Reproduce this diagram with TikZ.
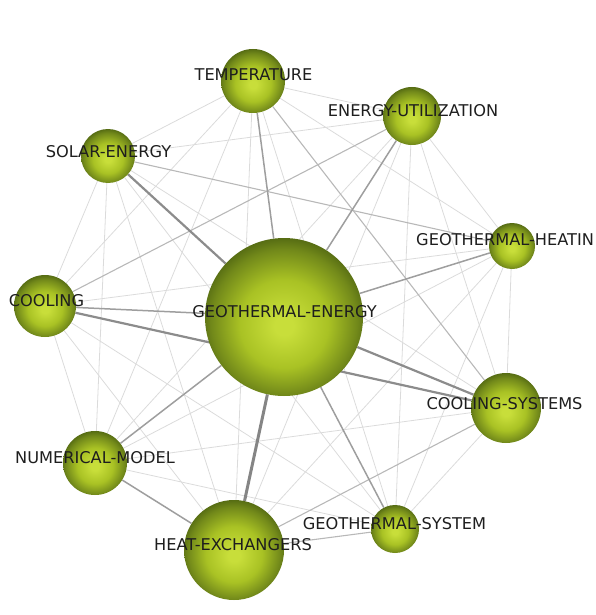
\documentclass[tikz,border=0pt]{standalone}
\usepackage{fontspec}
\setmainfont{DejaVu Sans}
\usetikzlibrary{backgrounds}
\definecolor{ballc}{HTML}{C8DE3A}
\definecolor{ballm}{HTML}{A9C224}
\definecolor{balld}{HTML}{72891A}
\definecolor{balle}{HTML}{526812}
\definecolor{lbl}{HTML}{1E1E1E}
\pgfdeclareradialshading{ball}{\pgfpoint{0bp}{-3bp}}{color(0bp)=(ballc); color(3bp)=(ballc); color(14bp)=(ballm); color(23bp)=(balld); color(27bp)=(balle); color(50bp)=(balle)}
\tikzset{
  bubble/.style={circle, inner sep=0pt, shading=ball, minimum size=#1},
  lab/.style={font=\fontsize{16.2}{18}\selectfont, text=lbl, inner sep=0pt},
  e0/.style={draw=black!14, line width=0.8pt},
  e1/.style={draw=black!28, line width=1.1pt},
  e2/.style={draw=black!38, line width=1.5pt},
  e3/.style={draw=black!45, line width=2.2pt},
  e4/.style={draw=black!48, line width=3pt},
}
\begin{document}
\begin{tikzpicture}[x=1pt,y=-1pt]
\useasboundingbox (0,0) rectangle (596,615);
\node[bubble=64pt] (T) at (253,81) {};
\node[bubble=58pt] (EU) at (412,116) {};
\node[bubble=54pt] (SE) at (108,156) {};
\node[bubble=46pt] (GH) at (512,246) {};
\node[bubble=62pt] (C) at (45,306) {};
\node[bubble=158pt] (GE) at (284,317) {};
\node[bubble=70pt] (CS) at (506,408) {};
\node[bubble=64pt] (NM) at (95,463) {};
\node[bubble=48pt] (GS) at (395,529) {};
\node[bubble=100pt] (HE) at (234,550) {};
\begin{scope}[on background layer]
\foreach \a/\b/\s in {T/EU/e0,T/SE/e0,T/GH/e0,T/C/e0,T/NM/e0,T/GS/e0,T/HE/e0,
  EU/SE/e0,EU/GH/e0,EU/CS/e0,EU/NM/e0,EU/GS/e0,EU/HE/e0,
  SE/C/e0,SE/CS/e0,SE/NM/e0,SE/GS/e0,SE/HE/e0,
  GH/C/e0,GH/CS/e0,GH/NM/e0,GH/GS/e0,GH/HE/e0,
  C/NM/e0,C/GS/e0,C/HE/e0,CS/NM/e0,CS/GS/e0,NM/GS/e0,
  T/CS/e1,EU/C/e1,SE/GH/e1,CS/HE/e1,GS/HE/e1,
  T/GE/e2,EU/GE/e2,GH/GE/e2,C/GE/e2,GE/NM/e2,GE/GS/e2,NM/HE/e2,
  SE/GE/e3,C/CS/e3,GE/CS/e3,GE/HE/e4}
  \draw[\s] (\a) -- (\b);
\end{scope}
\node[lab] (Tl) at (253.5,75) {TEMPERATURE};
\node[lab] (EUl) at (413,111) {ENERGY-UTILIZATION};
\node[lab] (SEl) at (108.5,152) {SOLAR-ENERGY};
\node[lab, anchor=west] (GHl) at (416,240) {GEOTHERMAL-HEATIN};
\node[lab] (Cl) at (46.5,301) {COOLING};
\node[lab] (GEl) at (284.5,311.5) {GEOTHERMAL-ENERGY};
\node[lab] (CSl) at (504.5,403.5) {COOLING-SYSTEMS};
\node[lab] (NMl) at (95,457.5) {NUMERICAL-MODEL};
\node[lab] (GSl) at (394.5,523.5) {GEOTHERMAL-SYSTEM};
\node[lab] (HEl) at (233,544.5) {HEAT-EXCHANGERS};
\end{tikzpicture}
\end{document}
